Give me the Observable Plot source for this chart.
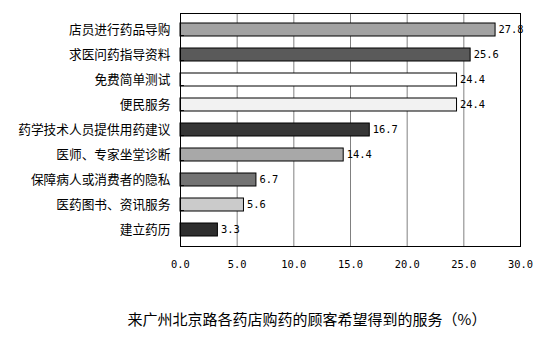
<!DOCTYPE html>
<html>
<head>
<meta charset="utf-8">
<script src="https://cdn.jsdelivr.net/npm/d3@7"></script>
<script src="https://cdn.jsdelivr.net/npm/@observablehq/plot@0.6"></script>
<style>
  body { margin: 0; background: #fff; }
  #wrap { position: relative; width: 551px; height: 352px; background: #fff; }
  #caption { position: absolute; left: 0; width: 614px; top: 309px; line-height: 20px; text-align: center;
    font-family: "Noto Sans CJK SC", sans-serif; font-size: 15px; color: #000; }
</style>
</head>
<body>
<div id="wrap"><div id="chart"></div><div id="caption">来广州北京路各药店购药的顾客希望得到的服务（%）</div></div>
<script>
const categories = ["店员进行药品导购", "求医问药指导资料", "免费简单测试", "便民服务", "药学技术人员提供用药建议", "医师、专家坐堂诊断", "保障病人或消费者的隐私", "医药图书、资讯服务", "建立药历"];
const values = [27.8, 25.6, 24.4, 24.4, 16.7, 14.4, 6.7, 5.6, 3.3];
const barColors = ["#a2a2a2", "#5a5a5a", "#ffffff", "#f2f2f2", "#363636", "#a8a8a8", "#737373", "#cbcbcb", "#2e2e2e"];
const xTicks = [0, 5, 10, 15, 20, 25, 30];

const data = categories.map((name, i) => ({name, value: values[i]}));

const chart = Plot.plot({
  width: 551,
  height: 290,
  marginTop: 13,
  marginBottom: 44,
  marginLeft: 180,
  marginRight: 31,
  style: {background: "#fff", overflow: "visible"},
  x: {domain: [0, 30], ticks: xTicks, tickFormat: d => d.toFixed(1), tickSize: 0, tickPadding: 14, label: null},
  y: {domain: categories, paddingInner: 0.5, paddingOuter: 0.25, tickSize: 0, tickPadding: 10, label: null},
  color: {type: "ordinal", domain: categories, range: barColors},
  marks: [
    Plot.ruleX(xTicks.slice(1, -1), {stroke: "#808080", strokeWidth: 1}),
    Plot.barX(data, {y: "name", x: "value", fill: "name", stroke: "#000", strokeWidth: 1}),
    Plot.text(data, {y: "name", x: "value", text: d => d.value.toFixed(1), textAnchor: "start", dx: 3,
      fontFamily: "DejaVu Sans Mono", fontSize: 10.4, fill: "#000"}),
    Plot.ruleY(categories.slice(1), {y: d => d, x1: 0, x2: 0.35, stroke: "#000", dy: -19.4}),
    Plot.frame({stroke: "#000"})
  ]
});

d3.select(chart).selectAll("g[aria-label='y-axis tick label'] text, g[aria-label='y-axis'] text")
  .style("font-family", "'Noto Sans CJK SC', sans-serif").style("font-size", "12.7px").attr("fill", "#000");
d3.select(chart).selectAll("g[aria-label='x-axis tick label'] text, g[aria-label='x-axis'] text")
  .style("font-family", "'DejaVu Sans Mono', monospace").style("font-size", "10.4px").attr("fill", "#000");
document.getElementById("chart").appendChild(chart);
</script>
</body>
</html>
